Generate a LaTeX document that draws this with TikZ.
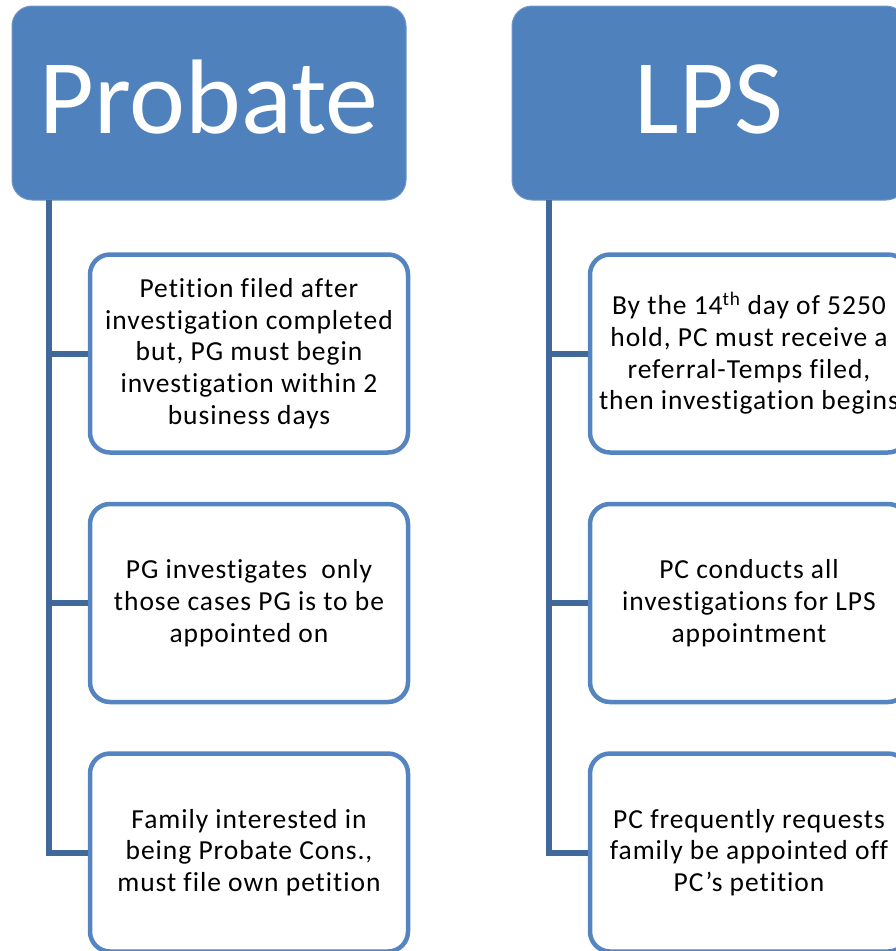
\documentclass[tikz,border=0pt]{standalone}
\usepackage{fontspec}
\setmainfont{Carlito}[Ligatures=NoCommon]
\definecolor{hdrblue}{HTML}{4F81BD}
\definecolor{hdredge}{HTML}{6F97C8}
\definecolor{boxblue}{HTML}{5585C0}
\definecolor{linkblue}{HTML}{41689A}
\tikzset{
  header/.style={rectangle, rounded corners=20pt, fill=hdrblue, draw=hdredge, line width=1pt,
    minimum width=394pt, minimum height=194pt, text=white,
    font=\fontsize{106}{120}\selectfont, text height=60pt, text depth=0pt, inner sep=0pt},
  itembox/.style={rectangle, rounded corners=20pt, draw=boxblue, line width=4.5pt, fill=white,
    minimum width=318pt, minimum height=198pt, align=center, inner sep=0pt,
    font=\fontsize{27.5}{31.7}\selectfont\addfontfeature{LetterSpace=3.5}},
  link/.style={draw=linkblue, line width=6pt, line join=miter}
}
\begin{document}
\begin{tikzpicture}[x=1pt,y=-1pt]
\useasboundingbox (0,0) rectangle (896,951);
\clip (0,0) rectangle (896,951);

% column headers
\node[header] (probate) at (209,103) {Probate};
\node[header] (lps) at (709,103) {LPS};

% spines below the headers
\coordinate (spineP) at (49,200);
\coordinate (spineL) at (549,200);

% Probate column
\node[itembox] (p1) at (249,353.5) {Petition filed after\\investigation completed\\but, PG must begin\\investigation within 2\\business days};
\node[itembox] (p2) at (249,603) {PG investigates\ \ only\\those cases PG is to be\\appointed on};
\node[itembox] (p3) at (249,852.5) {Family interested in\\being Probate Cons.,\\must file own petition};

% LPS column
\node[itembox] (l1) at (749,353.5) {By the 14\textsuperscript{th} day of 5250\\hold, PC must receive a\\referral-Temps filed,\\then investigation begins};
\node[itembox] (l2) at (749,603) {PC conducts all\\investigations for LPS\\appointment};
\node[itembox] (l3) at (749,852.5) {PC frequently requests\\family be appointed off\\PC’s petition};

% connectors
\draw[link] (spineP) |- (p3.west);
\draw[link] (spineP |- p1.west) -- (p1.west);
\draw[link] (spineP |- p2.west) -- (p2.west);
\draw[link] (spineL) |- (l3.west);
\draw[link] (spineL |- l1.west) -- (l1.west);
\draw[link] (spineL |- l2.west) -- (l2.west);
\end{tikzpicture}
\end{document}
